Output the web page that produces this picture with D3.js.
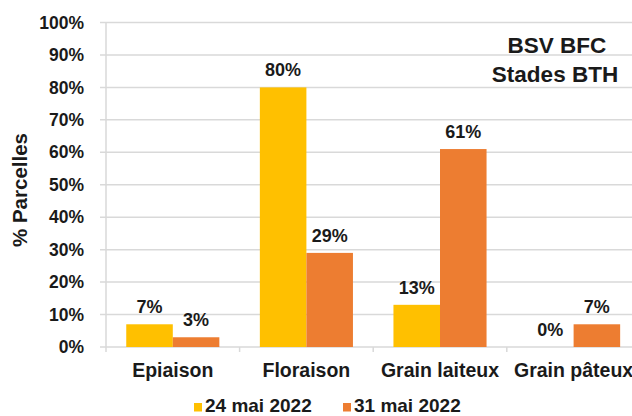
<!DOCTYPE html>
<html><head><meta charset="utf-8">
<script src="https://cdn.jsdelivr.net/npm/d3@7"></script>
<style>body{margin:0;background:#fff;}svg{display:block;font-family:"Liberation Sans",Arial,sans-serif;font-weight:bold;}</style>
</head><body>
<script>
const categories = ["Epiaison", "Floraison", "Grain laiteux", "Grain pâteux"];
const seriesNames = ["24 mai 2022", "31 mai 2022"];
const series1 = [7, 80, 13, 0];
const series2 = [3, 29, 61, 7];
const yTicks = [0,10,20,30,40,50,60,70,80,90,100];
const colors = ["#FFC000", "#ED7D31"];

(function(){
const W = 632, H = 416;
const svg = d3.select("body").append("svg").attr("width", W).attr("height", H);
const mLeft = 106, mTop = 22.5, mBottom = 347, catW = 133.6;
const x = d3.scaleBand().domain(categories).range([mLeft, mLeft + catW*categories.length]).padding(0);
const xi = d3.scaleBand().domain([0,1]).range([0, catW]).paddingOuter(0.435).paddingInner(0);
const y = d3.scaleLinear().domain([0,100]).range([mBottom, mTop]);
const txt = "#1a1a1a";

svg.append("g").selectAll("line").data(yTicks).join("line")
  .attr("x1", 100).attr("x2", W).attr("y1", d=>y(d)).attr("y2", d=>y(d))
  .attr("stroke", "#d9d9d9").attr("stroke-width", 1.5);
svg.append("line").attr("x1", mLeft).attr("x2", mLeft).attr("y1", mTop).attr("y2", mBottom+5)
  .attr("stroke", "#d9d9d9").attr("stroke-width", 1.5);
svg.append("g").selectAll("line").data(categories.slice(1)).join("line")
  .attr("x1", d=>x(d)).attr("x2", d=>x(d)).attr("y1", mBottom).attr("y2", mBottom+5)
  .attr("stroke", "#d9d9d9").attr("stroke-width", 1.5);

svg.append("g").selectAll("text").data(yTicks).join("text")
  .attr("x", 84).attr("y", d=>y(d)).attr("dy", "0.35em").attr("text-anchor", "end")
  .attr("font-size", 17.5).attr("fill", txt).text(d=>d+"%");

const allSeries = [series1, series2];
allSeries.forEach((vals, si) => {
  const g = svg.append("g");
  g.selectAll("rect").data(categories).join("rect")
    .attr("x", c => x(c) + xi(si)).attr("width", xi.bandwidth())
    .attr("y", (c,i) => y(vals[i])).attr("height", (c,i) => y(0) - y(vals[i]))
    .attr("fill", colors[si]);
  g.selectAll("text").data(categories).join("text")
    .attr("x", c => x(c) + xi(si) + xi.bandwidth()/2)
    .attr("y", (c,i) => y(vals[i]) - 11)
    .attr("text-anchor", "middle").attr("font-size", 18).attr("fill", txt)
    .text((c,i) => vals[i] + "%");
});

svg.append("g").selectAll("text").data(categories).join("text")
  .attr("x", c => x(c) + catW/2).attr("y", 377).attr("text-anchor", "middle")
  .attr("font-size", 19.5).attr("fill", txt).text(d=>d);

svg.append("text").attr("transform", "translate(27,190) rotate(-90)")
  .attr("text-anchor", "middle").attr("font-size", 20.5).attr("fill", txt).text("% Parcelles");

svg.append("text").attr("x", 557).attr("y", 53).attr("text-anchor", "middle")
  .attr("font-size", 22.5).attr("fill", txt).text("BSV BFC");
svg.append("text").attr("x", 555).attr("y", 81.5).attr("text-anchor", "middle")
  .attr("font-size", 22.5).attr("fill", txt).text("Stades BTH");

const legX = [194, 343];
seriesNames.forEach((n, i) => {
  svg.append("rect").attr("x", legX[i]).attr("y", 403).attr("width", 8).attr("height", 8.5).attr("fill", colors[i]);
  svg.append("text").attr("x", legX[i] + 11).attr("y", 411.5).attr("font-size", 19).attr("fill", txt).text(n);
});
})();
</script>
</body></html>
